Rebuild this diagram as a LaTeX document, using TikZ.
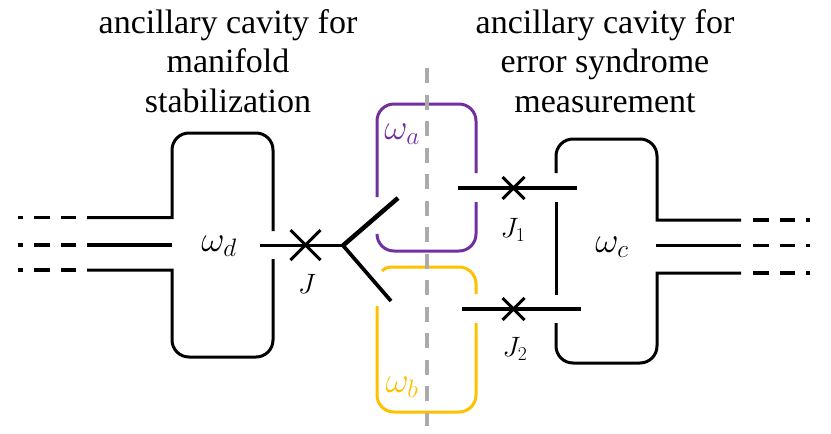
\RequirePackage{fix-cm}
\documentclass[tikz,border=0pt]{standalone}
\usepackage{fontspec}
\setmainfont{Liberation Serif}
\definecolor{cavpurple}{HTML}{7030A0}
\definecolor{cavyellow}{HTML}{FFC000}
\definecolor{cutgray}{HTML}{ABABAB}
\tikzset{
  cavwall/.style={line width=3pt},
  feed/.style={line width=3.7pt},
  stub/.style={line width=3.7pt,dash pattern=on 15.5pt off 11pt},
  title/.style={font=\fontsize{34}{39.3}\selectfont,align=center},
  freq/.style={font=\fontsize{36}{36}\selectfont},
  junction/.style={font=\fontsize{28}{28}\selectfont}
}
\begin{document}
\begin{tikzpicture}[x=1pt,y=-1pt]
    \useasboundingbox (0,0) rectangle (831,434);
    % Titoli
    \node[title] (titleleft) at (228,61) {ancillary cavity for\\manifold\\stabilization};
    \node[title] (titleright) at (605,61) {ancillary cavity for\\error syndrome\\measurement};
    % Cavita laterali
    \draw[cavwall] (87,217.5) -- (172,217.5) -- (172,170) [rounded corners=17pt] -- (172,133) -- (273,133) -- (273,231);
    \draw[cavwall] (87,270) -- (172,270) -- (172,320) [rounded corners=17pt] -- (172,357) -- (273,357) -- (273,259);
    \draw[cavwall] (741,220) -- (657,220) -- (657,180) [rounded corners=17pt] -- (657,139) -- (556,139) -- (556,173);
    \draw[cavwall] (741,273) -- (657,273) -- (657,320) [rounded corners=17pt] -- (657,363) -- (556,363) -- (556,323);
    \draw[cavwall] (556,202) -- (556,295);
    % Cavita centrali
    \draw[cavwall,cavpurple,rounded corners=17pt] (377,197) -- (377,104) -- (476,104) -- (476,173);
    \draw[cavwall,cavpurple,rounded corners=17pt] (476,202) -- (476,251) -- (377,251) -- (377,236);
    \draw[cavwall,cavyellow] (382,271) .. controls (385,268) and (388,267) .. (394,267) [rounded corners=17pt] -- (476,267) -- (476,294);
    \draw[cavwall,cavyellow,rounded corners=17pt] (476,323) -- (476,412) -- (377,412) -- (377,306);
    % Linea di taglio
    \draw[cutgray,line width=4pt,dash pattern=on 15pt off 11.5pt] (427,68) -- (427,426);
    % Guide
    \draw[feed] (87,245.3) -- (172,245.3);
    \draw[feed] (656,245.5) -- (741,245.5);
    \foreach \y in {217.5,245.3,270}
        \draw[stub] (76,\y) -- (18,\y);
    \foreach \y in {220,245.5,273}
        \draw[stub] (753,\y) -- (810,\y);
    % Giunzioni
    \coordinate (fork) at (343,245.5);
    \coordinate (crossJ) at (305.5,245);
    \coordinate (crossJa) at (513.5,188);
    \coordinate (crossJb) at (513.5,309);
    \draw[feed] (260,245.5) -- (fork);
    \draw[line width=4.5pt] (fork) -- (398,198);
    \draw[feed] (fork) -- (391,301);
    \draw[feed] (458,188) -- (577,188);
    \draw[feed] (462,309) -- (581,309);
    \foreach \c/\r in {crossJ/15,crossJa/11,crossJb/11}
        \draw[cavwall] ([shift={(-\r,-\r)}]\c) -- ([shift={(\r,\r)}]\c)
            ([shift={(-\r,\r)}]\c) -- ([shift={(\r,-\r)}]\c);
    % Annotazioni
    \node[freq] (freqd) at (219,246) {$\omega_d$};
    \node[freq] (freqc) at (612,247) {$\omega_c$};
    \node[freq,text=cavpurple] (freqa) at (402,134) {$\omega_a$};
    \node[freq,text=cavyellow] (freqb) at (402,387) {$\omega_b$};
    \node[junction] (labelJ) at (307,284) {$J$};
    \node[junction] (labelJa) at (513,230) {$J_1$};
    \node[junction] (labelJb) at (515,349) {$J_2$};
\end{tikzpicture}
\end{document}
